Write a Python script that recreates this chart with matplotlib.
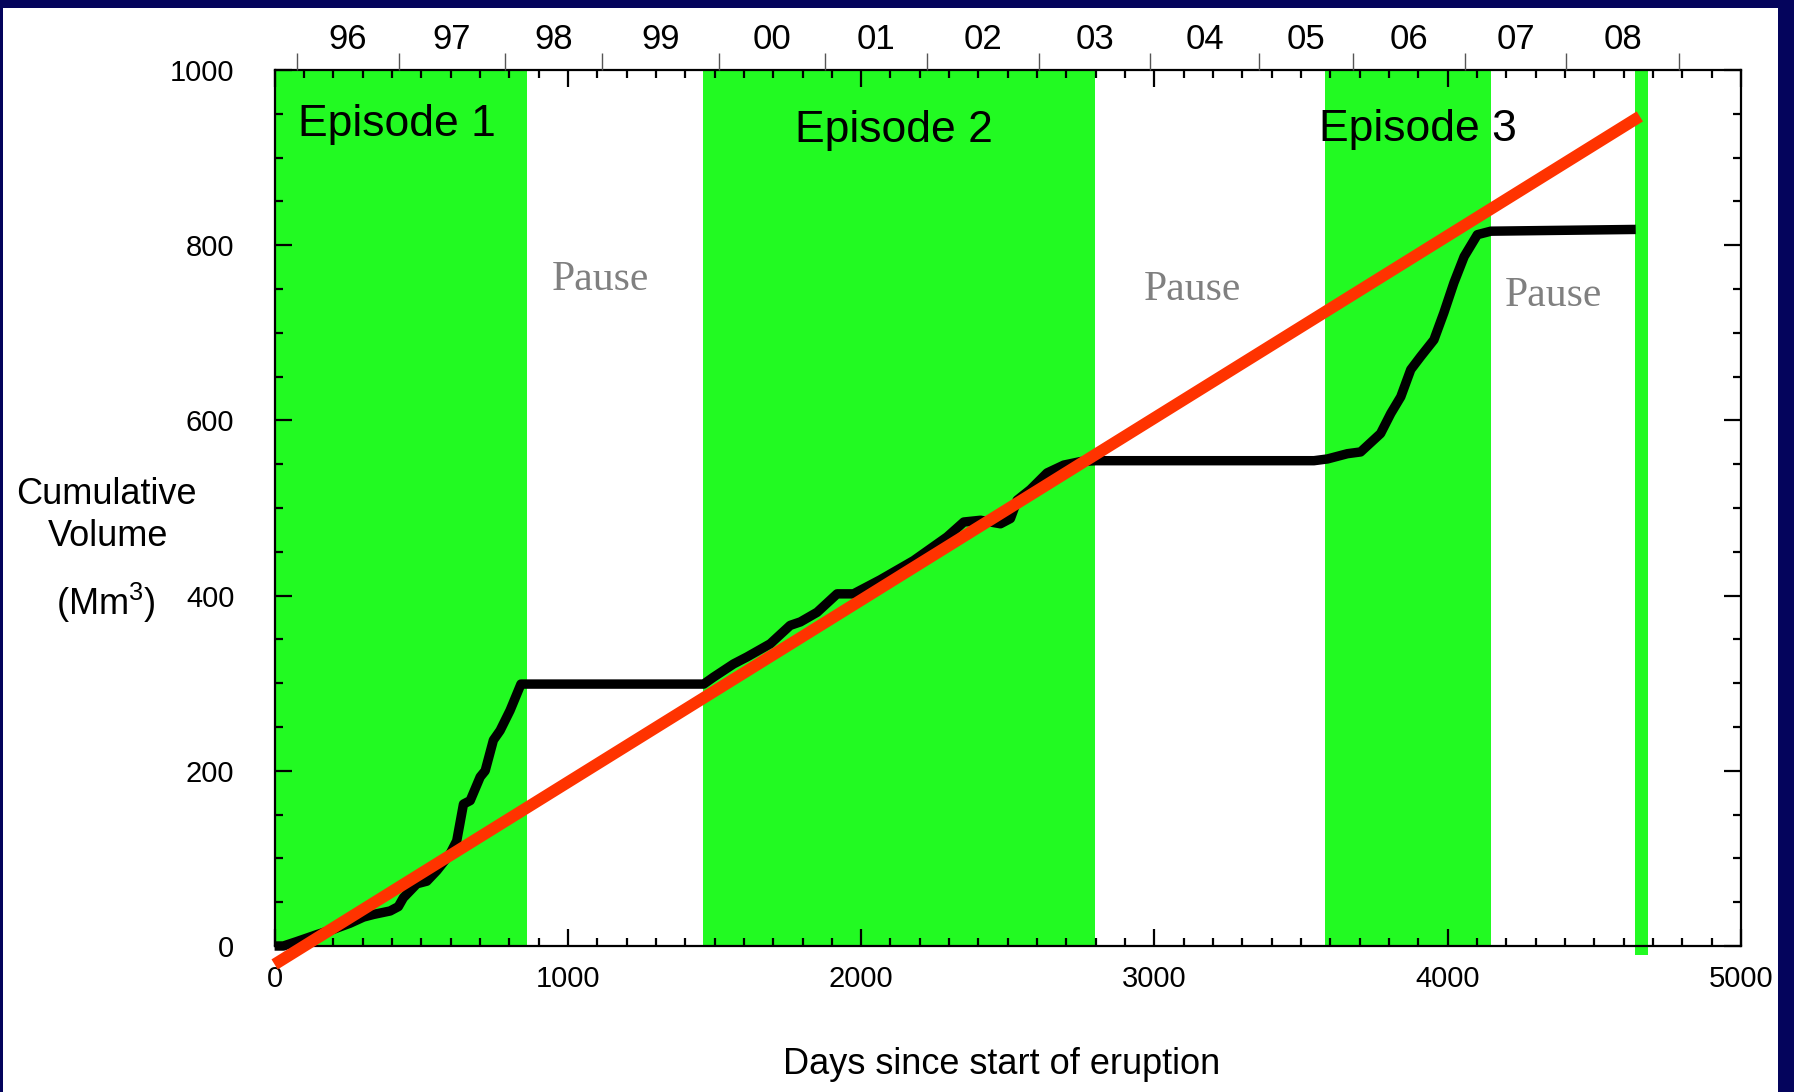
import numpy as np
import matplotlib
matplotlib.use('Agg')
import matplotlib.pyplot as plt
from matplotlib.patches import Rectangle
from matplotlib.ticker import MultipleLocator

plt.rcParams['font.family'] = ['Liberation Sans', 'DejaVu Sans']
plt.rcParams['mathtext.default'] = 'regular'

# Cumulative erupted volume (Mm3) against days since start of eruption
days = [0, 30, 75, 144, 200, 257, 303, 337, 394, 422, 439, 485, 519, 553, 598,
        621, 644, 667, 701, 718, 746, 769, 803, 840, 1463, 1497, 1565, 1611,
        1690, 1758, 1793, 1850, 1918, 1974, 2065, 2179, 2293, 2350, 2407, 2475,
        2509, 2532, 2577, 2634, 2691, 2748, 2799, 3544, 3590, 3658, 3703, 3771,
        3806, 3840, 3874, 3908, 3953, 3987, 4021, 4056, 4101, 4147, 4641]
volume = [0, 0, 5, 13, 19, 26, 33, 36, 40, 45, 55, 71, 74, 86, 105,
          120, 162, 166, 193, 200, 235, 246, 269, 299, 299, 307, 322, 330,
          345, 366, 370, 381, 402, 402, 418, 440, 467, 484, 486, 482,
          488, 509, 521, 540, 549, 553, 554, 554, 556, 562, 564, 585,
          608, 627, 658, 673, 692, 723, 757, 787, 812, 816, 818]

# long-term average rate line (start and end points)
trend_days = [0, 4655]
trend_volume = [-21, 947]

# dome-building episodes (start, end in days)
episodes = [(0, 860), (1460, 2797), (3582, 4146)]
episode_names = ['Episode 1', 'Episode 2', 'Episode 3']
episode_label_x = [418, 2111, 3899]
episode_label_y = [938, 931, 932]
new_episode = (4640, 4684)

pause_label_x = [1112, 3131, 4360]
pause_label_y = [760, 749, 742]

# calendar year boundaries along the top axis
year_bounds = [76, 424, 786, 1117, 1516, 1878, 2224, 2608, 2984, 3358, 3676,
               4060, 4402, 4790]
year_labels = ['96', '97', '98', '99', '00', '01', '02', '03', '04', '05',
               '06', '07', '08']

W, H = 1794, 1092
fig = plt.figure(figsize=(W / 100, H / 100), dpi=100)
fig.patch.set_facecolor('#04045c')
fig.add_artist(Rectangle((3 / W, 0), (1778 - 3) / W, (H - 8) / H,
                         transform=fig.transFigure, facecolor='white',
                         edgecolor='none', zorder=-5))

ax = fig.add_axes([274.6 / W, 1 - 946 / H, (1741 - 274.6) / W, (946 - 70) / H])
ax.set_xlim(0, 5000)
ax.set_ylim(0, 1000)

green = '#22fa22'
for (a, b) in episodes:
    ax.axvspan(a, b, color=green, lw=0, zorder=0)
ax.axvspan(new_episode[0], new_episode[1], ymin=-0.01, ymax=1, color=green,
           lw=0, zorder=0, clip_on=False)

ax.plot(days, volume, color='black', lw=6.8, solid_capstyle='butt',
        solid_joinstyle='round', zorder=3, clip_on=False)
ax.plot(trend_days, trend_volume, color='#ff3300', lw=8.5,
        solid_capstyle='butt', zorder=4, clip_on=False)

for x, y, name in zip(episode_label_x, episode_label_y, episode_names):
    ax.text(x, y, name, fontsize=32, ha='center', va='center', zorder=5)
for x, y in zip(pause_label_x, pause_label_y):
    ax.text(x, y, 'Pause', fontsize=30, color='#808080', ha='center',
            va='center', family=['Liberation Serif', 'DejaVu Serif'], zorder=5)

# year ticks above the top spine
ax2 = ax.twiny()
ax2.set_xlim(ax.get_xlim())
ax2.set_xticks(year_bounds)
ax2.set_xticklabels([])
mids = (np.array(year_bounds[:-1]) + np.array(year_bounds[1:])) / 2
ax2.set_xticks(mids, minor=True)
ax2.set_xticklabels(year_labels, minor=True, fontsize=25)
ax2.tick_params(which='major', direction='out', length=12, width=1,
                color='#555555')
ax2.tick_params(which='minor', length=0, pad=10)
for s in ax2.spines.values():
    s.set_visible(False)

ax.xaxis.set_major_locator(MultipleLocator(1000))
ax.xaxis.set_minor_locator(MultipleLocator(100))
ax.yaxis.set_major_locator(MultipleLocator(200))
ax.yaxis.set_minor_locator(MultipleLocator(50))
ax.tick_params(which='both', direction='in', top=True, right=True, width=1.6)
ax.tick_params(which='major', length=12)
ax.tick_params(which='minor', length=5.5)
ax.tick_params(axis='x', labelsize=21, pad=14)
ax.tick_params(axis='y', labelsize=21, pad=29)
for s in ax.spines.values():
    s.set_linewidth(1.6)
    s.set_zorder(2)

fig.text(1002 / W, 1 - 1064 / H, 'Days since start of eruption', fontsize=26,
         ha='center', va='center')
fig.text(106 / W, 1 - 495 / H, 'Cumulative', fontsize=26, ha='center', va='center')
fig.text(108 / W, 1 - 537 / H, 'Volume', fontsize=26, ha='center', va='center')
fig.text(106 / W, 1 - 603 / H, '(Mm$^{3}$)', fontsize=26, ha='center', va='center')

fig.savefig('out.png', dpi=100, facecolor=fig.get_facecolor())
